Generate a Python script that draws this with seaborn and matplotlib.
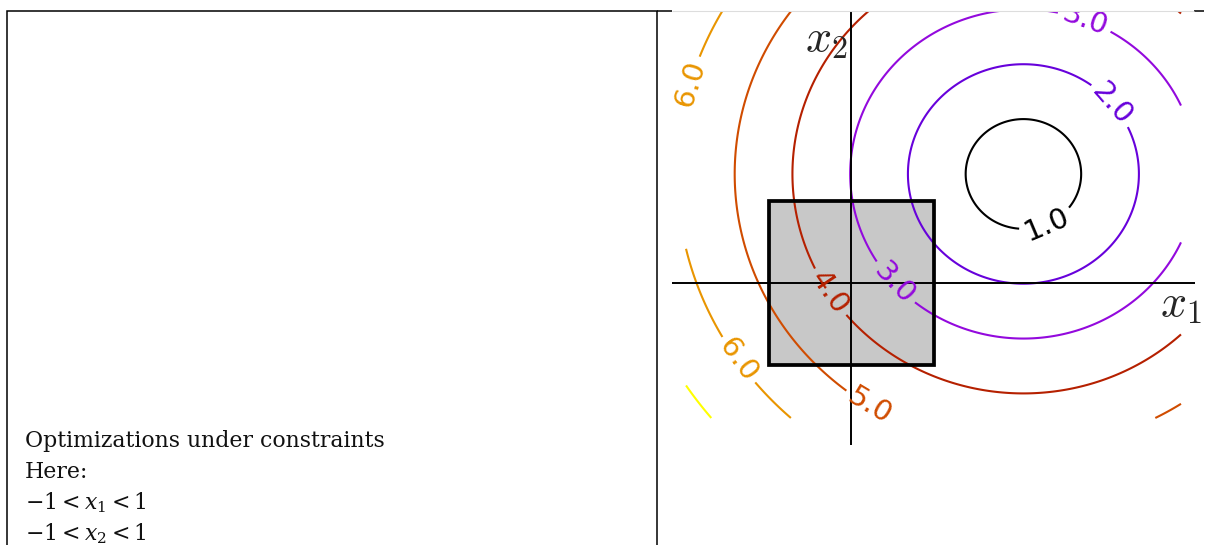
import numpy as np
import matplotlib
matplotlib.use("Agg")
import matplotlib.pyplot as plt
from matplotlib.patches import Rectangle
from matplotlib.lines import Line2D
import seaborn as sns

# ---- data ----
levels = [1, 2, 3, 4, 5, 6, 7]
center_x1 = 2.09
center_x2 = 1.33
scale_x1 = 0.70
scale_x2 = 0.67
grid_x1 = (-2.0, 4.0)
grid_x2 = (-1.65, 3.6)
constraint_x1 = (-1, 1)
constraint_x2 = (-1, 1)
label_positions = [(2.35, 0.77), (3.16, 2.18), (2.84, 3.22), (0.51, -0.02),
                   (-0.22, -0.09), (0.26, -1.45), (-1.95, 2.44), (-1.28, -0.88)]
text_lines = ["Optimizations under constraints", "Here:",
              r"$-1 < x_1 < 1$", r"$-1 < x_2 < 1$"]

sns.set_theme(style="white")
W, H = 1205, 545
fig = plt.figure(figsize=(W / 100, H / 100), dpi=100)

# ---- left text box ----
fig.patches.append(Rectangle((7 / W, -0.1), (657 - 7) / W, 1.1 - 11 / H,
                             transform=fig.transFigure, fill=False,
                             edgecolor="black", linewidth=1.1))
fig.lines.append(Line2D([657 / W, 672 / W], [1 - 11 / H] * 2, transform=fig.transFigure,
                        color="black", lw=1.1, solid_capstyle="butt"))
fig.lines.append(Line2D([1194 / W, 1204 / W], [1 - 11 / H] * 2, transform=fig.transFigure,
                        color="black", lw=1.1, solid_capstyle="butt"))
baselines = [447, 478, 509, 540]
for t, b in zip(text_lines, baselines):
    fig.text(25 / W, 1 - b / H, t, fontsize=15.8, family="DejaVu Serif",
             math_fontfamily="dejavuserif", va="baseline", ha="left", color="#111111")

# ---- contour panel ----
ax = fig.add_axes([672 / W, 1 - 445 / H, (1195 - 672) / W, (445 - 11) / H])
ax.set_xlim(-2.17, 4.17)
ax.set_ylim(-1.98, 3.32)
ax.axis("off")

x1 = np.linspace(*grid_x1, 400)
x2 = np.linspace(*grid_x2, 400)
X1, X2 = np.meshgrid(x1, x2)
Z = np.sqrt(((X1 - center_x1) / scale_x1) ** 2 + ((X2 - center_x2) / scale_x2) ** 2)

ax.add_patch(Rectangle((constraint_x1[0], constraint_x2[0]),
                       constraint_x1[1] - constraint_x1[0],
                       constraint_x2[1] - constraint_x2[0],
                       facecolor="#c8c8c8", edgecolor="none", zorder=0))
cs = ax.contour(X1, X2, Z, levels=levels, cmap="gnuplot", linewidths=1.5, zorder=2)
labels = ax.clabel(cs, fmt="%.1f", fontsize=21, inline=True, manual=label_positions)
for t in labels:
    t.set_clip_on(True)

ax.axhline(0, color="black", lw=1.4, zorder=3)
ax.axvline(0, color="black", lw=1.4, zorder=3)
ax.add_patch(Rectangle((constraint_x1[0], constraint_x2[0]),
                       constraint_x1[1] - constraint_x1[0],
                       constraint_x2[1] - constraint_x2[0],
                       facecolor="none", edgecolor="black", lw=2.7, zorder=4))
ax.text(4.0, -0.25, r"$x_1$", fontsize=33, math_fontfamily="cm",
        ha="center", va="center", zorder=5)
ax.text(-0.3, 2.98, r"$x_2$", fontsize=33, math_fontfamily="cm",
        ha="center", va="center", zorder=5)
fig.lines.append(Line2D([672 / W, 1194 / W], [1 - 11 / H] * 2, transform=fig.transFigure,
                        color="#dddddd", lw=0.8, solid_capstyle="butt"))

fig.savefig("out.png", dpi=100)
